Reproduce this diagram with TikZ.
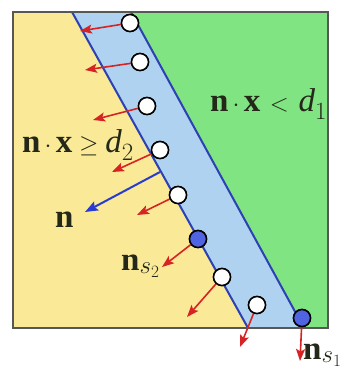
\documentclass[tikz,border=0pt]{standalone}
\usepackage{fontspec}
\setmainfont{Liberation Serif}
\usetikzlibrary{arrows.meta}
\definecolor{yel}{RGB}{250,233,150}
\definecolor{grn}{RGB}{128,228,130}
\definecolor{bnd}{RGB}{175,210,240}
\definecolor{lin}{RGB}{45,65,180}
\definecolor{frm}{RGB}{85,88,85}
\definecolor{arr}{RGB}{215,35,35}
\definecolor{nblue}{RGB}{40,60,210}
\definecolor{cblue}{RGB}{80,100,225}
\definecolor{txt}{RGB}{35,40,25}
\newcommand{\bvn}{\textbf{n}}
\newcommand{\bvx}{\textbf{x}}
\newcommand{\itd}{\textit{d}}
\begin{document}
\begin{tikzpicture}[x=1pt,y=-1pt,
  wc/.style={circle,draw=black,fill=white,line width=1.5pt,minimum size=17pt,inner sep=0pt},
  bc/.style={wc,fill=cblue},
  redarr/.style={draw=arr,line width=1.6pt,-{Stealth[length=12pt,width=9pt,inset=2.5pt]}},
  bluearr/.style={draw=nblue,line width=2pt,-{Stealth[length=13pt,width=10pt,inset=2.5pt]}},
  bandline/.style={draw=lin,line width=2pt},
  lbl/.style={text=txt,font=\fontsize{33}{35}\selectfont,inner sep=0pt,anchor=base west}]
\useasboundingbox (0,0) rectangle (345,371);
\fill[white] (0,0) rectangle (345,371);
% regions
\fill[yel] (13,12) rectangle (328,328);
\fill[bnd] (72,12) -- (131,12) -- (304,328) -- (248,328) -- cycle;
\fill[grn] (131,12) -- (328,12) -- (328,328) -- (304,328) -- cycle;
% band lines
\coordinate (L1) at (72,12);
\coordinate (L2) at (248,328);
\coordinate (R1) at (131,12);
\coordinate (R2) at (304,328);
\draw[bandline] (L1) -- (L2);
\draw[bandline] (R1) -- (R2);
% frame
\draw[frm,line width=2.5pt] (13,12) rectangle (328,328);
% points
\node[wc] (c1) at (130,23) {};
\node[wc] (c2) at (140,62) {};
\node[wc] (c3) at (147,106) {};
\node[wc] (c4) at (160,150) {};
\node[wc] (c5) at (178,195) {};
\node[bc] (c6) at (198,239) {};
\node[wc] (c7) at (222,277) {};
\node[wc] (c8) at (257,305) {};
\node[bc] (c9) at (302,318) {};
% arrow tips
\coordinate (t1) at (80,31);
\coordinate (t2) at (85,70);
\coordinate (t3) at (93,120);
\coordinate (t4) at (112,172);
\coordinate (t5) at (137,215);
\coordinate (t6) at (162,267);
\coordinate (t7) at (187,317);
\coordinate (t8) at (240,347);
\coordinate (t9) at (300,361);
\foreach \i in {1,...,9} {\draw[redarr] (c\i) -- (t\i);}
% redraw points above arrows
\node[wc] at (c1) {};
\node[wc] at (c2) {};
\node[wc] at (c3) {};
\node[wc] at (c4) {};
\node[wc] at (c5) {};
\node[bc] at (c6) {};
\node[wc] at (c7) {};
\node[wc] at (c8) {};
\node[bc] at (c9) {};
% normal
\coordinate (nb) at (160,172);
\coordinate (nt) at (85,212);
\draw[bluearr] (nb) -- (nt);
% labels
\node[lbl] (lab1) at (210,112) {$\bvn\mkern3mu{\cdot}\mkern3mu\bvx \mkern2mu< \mkern2mu\itd_1$};
\node[lbl] (lab2) at (22,153) {$\bvn\mkern3mu{\cdot}\mkern3mu\bvx \ge \itd_2$};
\node[lbl] (lab3) at (55,227) {$\bvn$};
\node[lbl] (lab4) at (121,270) {$\bvn_{s_2}$};
\node[lbl] (lab5) at (303,359) {$\bvn_{s_1}$};
\end{tikzpicture}
\end{document}
